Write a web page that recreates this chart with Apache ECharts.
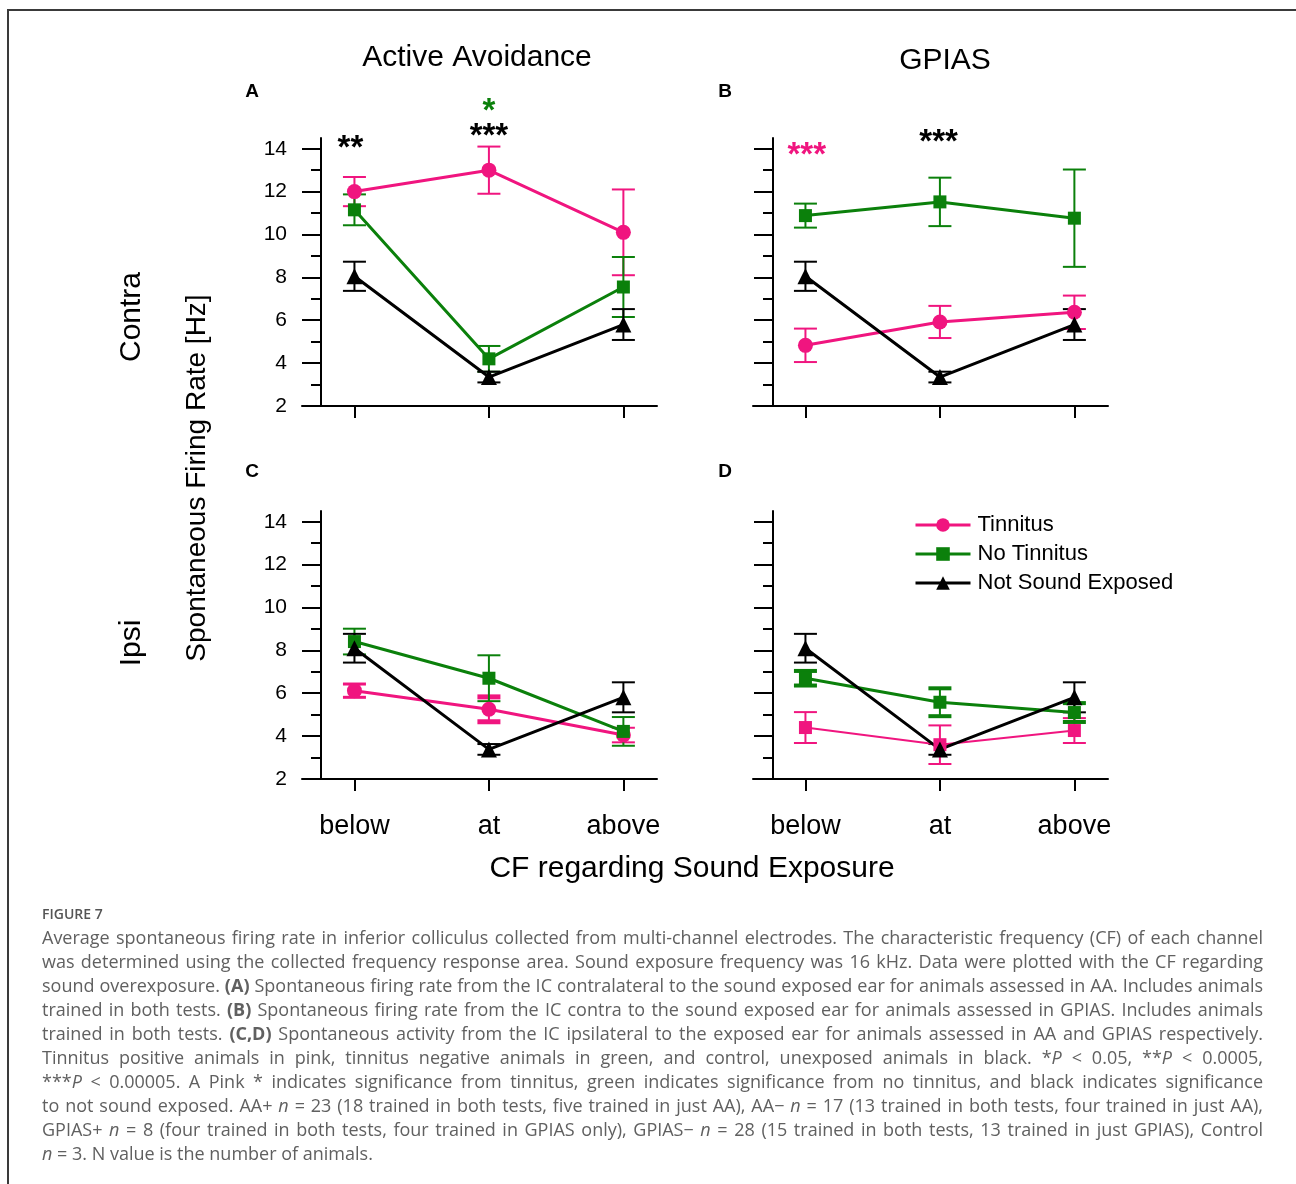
<!DOCTYPE html>
<html>
<head>
<meta charset="utf-8">
<script src="https://cdn.jsdelivr.net/npm/echarts@6/dist/echarts.min.js"></script>
<style>html,body{margin:0;padding:0;background:#fff}#chart{width:1296px;height:1184px}</style>
</head>
<body>
<div id="chart"></div>
<script>
// ---------------- DATA ----------------
const categories = ['below', 'at', 'above'];
const yTicksMajor = [2, 4, 6, 8, 10, 12, 14];
const yTicksMinor = [3, 5, 7, 9, 11, 13];
const seriesNames = ['Tinnitus', 'No Tinnitus', 'Not Sound Exposed'];
const columnTitles = ['Active Avoidance', 'GPIAS'];
const rowTitles = ['Contra', 'Ipsi'];
const panelLetters = ['A', 'B', 'C', 'D'];
const yAxisTitle = 'Spontaneous Firing Rate [Hz]';
const xAxisTitle = 'CF regarding Sound Exposure';

// Panel A: Active Avoidance, contra
const aTinMean = [12.0, 13.0, 10.1];
const aTinErr = [0.68, 1.1, 2.0];
const aNoTinMean = [11.15, 4.2, 7.55];
const aNoTinErr = [0.72, 0.6, 1.4];
const aCtrlMean = [8.05, 3.35, 5.8];
const aCtrlErr = [0.68, 0.25, 0.72];
// Panel B: GPIAS, contra
const bTinMean = [4.83, 5.92, 6.37];
const bTinErr = [0.78, 0.75, 0.78];
const bNoTinMean = [10.88, 11.52, 10.76];
const bNoTinErr = [0.56, 1.13, 2.27];
const bCtrlMean = [8.05, 3.35, 5.8];
const bCtrlErr = [0.68, 0.25, 0.72];
// Panel C: Active Avoidance, ipsi
const cTinMean = [6.12, 5.25, 4.05];
const cTinErr = [0.31, 0.58, 0.34];
const cNoTinMean = [8.41, 6.7, 4.22];
const cNoTinErr = [0.6, 1.07, 0.67];
const cCtrlMean = [8.1, 3.38, 5.81];
const cCtrlErr = [0.67, 0.25, 0.7];
// Panel D: GPIAS, ipsi
const dTinMean = [4.4, 3.6, 4.26];
const dTinErr = [0.72, 0.9, 0.58];
const dNoTinMean = [6.7, 5.58, 5.1];
const dNoTinErr = [0.34, 0.65, 0.44];
const dCtrlMean = [8.1, 3.38, 5.81];
const dCtrlErr = [0.67, 0.25, 0.7];

// Significance markers: text, category index, level (Hz), group (0 tinnitus,1 no tinnitus,2 control)
const starsAText = ['**', '***', '*'];
const starsACat = [-0.03, 1, 1];
const starsALevel = [14.0, 14.56, 15.73];
const starsAGroup = [2, 2, 1];
const starsBText = ['***', '***'];
const starsBCat = [0.01, 0.99];
const starsBLevel = [13.67, 14.28];
const starsBGroup = [0, 2];

const captionTitle = 'FIGURE 7';
const captionLines = [
'Average spontaneous firing rate in inferior colliculus collected from multi-channel electrodes. The characteristic frequency (CF) of each channel',
'was determined using the collected frequency response area. Sound exposure frequency was 16 kHz. Data were plotted with the CF regarding',
'sound overexposure. {b|(A)} Spontaneous firing rate from the IC contralateral to the sound exposed ear for animals assessed in AA. Includes animals',
'trained in both tests. {b|(B)} Spontaneous firing rate from the IC contra to the sound exposed ear for animals assessed in GPIAS. Includes animals',
'trained in both tests. {b|(C,D)} Spontaneous activity from the IC ipsilateral to the exposed ear for animals assessed in AA and GPIAS respectively.',
'Tinnitus positive animals in pink, tinnitus negative animals in green, and control, unexposed animals in black. *{i|P} < 0.05, **{i|P} < 0.0005,',
'***{i|P} < 0.00005. A Pink * indicates significance from tinnitus, green indicates significance from no tinnitus, and black indicates significance',
'to not sound exposed. AA+ {i|n} = 23 (18 trained in both tests, five trained in just AA), AA\u2212 {i|n} = 17 (13 trained in both tests, four trained in just AA),',
'GPIAS+ {i|n} = 8 (four trained in both tests, four trained in GPIAS only), GPIAS\u2212 {i|n} = 28 (15 trained in both tests, 13 trained in just GPIAS), Control',
'{i|n} = 3. N value is the number of animals.'
];

// ---------------- STYLE / LAYOUT ----------------
const PINK = '#F0157F', GREEN = '#0B800B', BLACK = '#000000';
const groupColors = [PINK, GREEN, BLACK];
const FONT = 'Liberation Sans';
const CAP_FONT = 'Open Sans';
const CAP_SIZE = 18;

const panelData = [
  [[aTinMean, aTinErr], [aNoTinMean, aNoTinErr], [aCtrlMean, aCtrlErr]],
  [[bTinMean, bTinErr], [bNoTinMean, bNoTinErr], [bCtrlMean, bCtrlErr]],
  [[cTinMean, cTinErr], [cNoTinMean, cNoTinErr], [cCtrlMean, cCtrlErr]],
  [[dTinMean, dTinErr], [dNoTinMean, dNoTinErr], [dCtrlMean, dCtrlErr]]
];
const baseStyles = [
  {symbol: 'circle', symbolSize: 15, lineWidth: 3, cap: [2, 2, 2]},
  {symbol: 'rect', symbolSize: 13, lineWidth: 3, cap: [2, 2, 2]},
  {symbol: 'triangle', symbolSize: 16, lineWidth: 3, cap: [2, 2, 2]}
];
const panelStyles = [
  [baseStyles[0], baseStyles[1], baseStyles[2]],
  [baseStyles[0], baseStyles[1], baseStyles[2]],
  [Object.assign({}, baseStyles[0], {cap: [3, 5, 2]}), baseStyles[1], baseStyles[2]],
  [{symbol: 'rect', symbolSize: 13, lineWidth: 2, cap: [2, 2, 2]}, Object.assign({}, baseStyles[1], {cap: [4, 4, 4]}), baseStyles[2]]
];
const panelLayout = [
  {left: 302, top: 138, yOff: -19, showY: true, showX: false},
  {left: 753, top: 138, yOff: -20, showY: false, showX: false},
  {left: 302, top: 511, yOff: -19, showY: true, showX: true},
  {left: 753, top: 511, yOff: -20, showY: false, showX: true}
];
const panelStars = [
  {text: starsAText, cat: starsACat, level: starsALevel, group: starsAGroup},
  {text: starsBText, cat: starsBCat, level: starsBLevel, group: starsBGroup},
  null, null
];

const axisLineStyle = {color: '#000', width: 2};

const grids = [], xAxes = [], yAxes = [], series = [];
panelLayout.forEach((p, i) => {
  grids.push({left: p.left, top: p.top, width: 355, height: 268, outerBoundsMode: 'none', containLabel: false});
  xAxes.push({
    gridIndex: i, type: 'value', min: -0.39, max: 2.25,
    axisLine: {show: true, onZero: false, lineStyle: axisLineStyle},
    axisTick: {show: true, customValues: [0, 1, 2], length: 12, lineStyle: axisLineStyle},
    axisLabel: p.showX ? {show: true, customValues: [0, 1, 2], formatter: v => categories[Math.round(v)],
      fontSize: 27, fontFamily: FONT, color: '#000', margin: 34} : {show: false},
    splitLine: {show: false}
  });
  yAxes.push({
    gridIndex: i, type: 'value', min: 2, max: 14.5, position: 'left', offset: p.yOff,
    axisLine: {show: true, onZero: false, lineStyle: axisLineStyle},
    axisTick: {show: true, customValues: yTicksMajor, length: 19, lineStyle: axisLineStyle},
    axisLabel: p.showY ? {show: true, customValues: yTicksMajor, fontSize: 21, fontFamily: FONT, color: '#000', margin: 34} : {show: false},
    splitLine: {show: false}
  });
  yAxes.push({
    gridIndex: i, type: 'value', min: 2, max: 14.5, position: 'left', offset: p.yOff,
    axisLine: {show: false, onZero: false},
    axisTick: {show: true, customValues: yTicksMinor, length: 10, lineStyle: axisLineStyle},
    axisLabel: {show: false},
    splitLine: {show: false}
  });

  panelData[i].forEach((grp, g) => {
    const mean = grp[0], err = grp[1];
    const st = panelStyles[i][g];
    const color = groupColors[g];
    series.push({
      type: 'custom', name: seriesNames[g] + ' error ' + panelLetters[i],
      xAxisIndex: i, yAxisIndex: 2 * i, silent: true,
      encode: {x: 0, y: 1},
      data: mean.map((m, k) => [k, m, m - err[k], m + err[k]]),
      renderItem: (params, api) => {
        const x = api.value(0);
        const pT = api.coord([x, api.value(3)]);
        const pB = api.coord([x, api.value(2)]);
        const half = 11.5;
        const cw = st.cap[params.dataIndex];
        return {type: 'group', children: [
          {type: 'line', shape: {x1: pT[0], y1: pT[1], x2: pB[0], y2: pB[1]}, style: {stroke: color, lineWidth: 2}},
          {type: 'line', shape: {x1: pT[0] - half, y1: pT[1], x2: pT[0] + half, y2: pT[1]}, style: {stroke: color, lineWidth: cw}},
          {type: 'line', shape: {x1: pB[0] - half, y1: pB[1], x2: pB[0] + half, y2: pB[1]}, style: {stroke: color, lineWidth: cw}}
        ]};
      }
    });
    series.push({
      type: 'line', name: seriesNames[g], xAxisIndex: i, yAxisIndex: 2 * i,
      data: mean.map((m, k) => [k, m]),
      symbol: st.symbol, symbolSize: st.symbolSize,
      lineStyle: {color: color, width: st.lineWidth},
      itemStyle: {color: color, borderWidth: 0},
      emphasis: {disabled: true}, silent: true
    });
  });

  const stars = panelStars[i];
  if (stars) {
    series.push({
      type: 'custom', name: 'significance ' + panelLetters[i],
      xAxisIndex: i, yAxisIndex: 2 * i, silent: true, z: 5,
      encode: {x: 0, y: 1},
      data: stars.text.map((t, k) => [stars.cat[k], stars.level[k]]),
      renderItem: (params, api) => {
        const pt = api.coord([api.value(0), api.value(1)]);
        const k = params.dataIndex;
        return {type: 'text', x: pt[0], y: pt[1], style: {
          text: stars.text[k], fill: groupColors[stars.group[k]],
          fontSize: 33, fontWeight: 'bold', fontFamily: FONT, align: 'center', verticalAlign: 'middle'}};
      }
    });
  }
});

// ---------------- GRAPHIC TEXT ----------------
const graphics = [];
graphics.push({type: 'rect', shape: {x: 8, y: 10, width: 1400, height: 1400}, style: {fill: 'none', stroke: '#3a3a3a', lineWidth: 2}, silent: true});
function txt(text, x, y, size, opts) {
  return Object.assign({type: 'text', x: x, y: y, silent: true, style: Object.assign({
    text: text, fontSize: size, fontFamily: FONT, fill: '#000', align: 'center', verticalAlign: 'middle'
  }, (opts && opts.style) || {})}, (opts && opts.el) || {});
}
graphics.push(txt(columnTitles[0], 477, 58, 30));
graphics.push(txt(columnTitles[1], 945, 61, 30));
graphics.push(txt(panelLetters[0], 252, 92, 19, {style: {fontWeight: 'bold'}}));
graphics.push(txt(panelLetters[1], 725, 92, 19, {style: {fontWeight: 'bold'}}));
graphics.push(txt(panelLetters[2], 252, 472, 19, {style: {fontWeight: 'bold'}}));
graphics.push(txt(panelLetters[3], 725, 472, 19, {style: {fontWeight: 'bold'}}));
graphics.push(txt(rowTitles[0], 132, 317, 30, {el: {rotation: Math.PI / 2}}));
graphics.push(txt(rowTitles[1], 132, 643, 30, {el: {rotation: Math.PI / 2}}));
graphics.push(txt(yAxisTitle, 197, 478, 28, {el: {rotation: Math.PI / 2}}));
graphics.push(txt(xAxisTitle, 692, 869, 30));

// caption (justified, word by word)
const CAP_COLOR = '#606060';
const ctx = document.createElement('canvas').getContext('2d');
function segs(word) {
  const out = []; const re = /\{(b|i)\|([^}]*)\}/g; let last = 0, m;
  while ((m = re.exec(word))) {
    if (m.index > last) out.push({t: word.slice(last, m.index), s: ''});
    out.push({t: m[2], s: m[1]}); last = re.lastIndex;
  }
  if (last < word.length) out.push({t: word.slice(last), s: ''});
  return out;
}
function fontFor(s) { return (s === 'i' ? 'italic ' : '') + (s === 'b' ? 'bold ' : '') + CAP_SIZE + 'px "' + CAP_FONT + '"'; }
function measure(word) { return segs(word).reduce((w, sg) => { ctx.font = fontFor(sg.s); return w + ctx.measureText(sg.t).width; }, 0); }
const capRich = {
  b: {fontFamily: CAP_FONT, fontSize: CAP_SIZE, fontWeight: 'bold', fill: CAP_COLOR},
  i: {fontFamily: CAP_FONT, fontSize: CAP_SIZE, fontStyle: 'italic', fill: CAP_COLOR}
};
graphics.push({type: 'text', x: 42, y: 915, silent: true, style: {text: captionTitle, fontSize: 14, fontWeight: 600, fontFamily: CAP_FONT, fill: '#555', align: 'left', verticalAlign: 'middle'}});
const CAP_LEFT = 42, CAP_RIGHT = 1263;
captionLines.forEach((line, li) => {
  const words = line.split(' ');
  const widths = words.map(measure);
  const total = widths.reduce((a, b) => a + b, 0);
  ctx.font = fontFor('');
  const natGap = ctx.measureText(' ').width;
  const justify = li < captionLines.length - 1;
  let gap = justify ? (CAP_RIGHT - CAP_LEFT - total) / (words.length - 1) : natGap;
  if (gap < natGap * 0.6) gap = natGap * 0.6;
  let x = CAP_LEFT;
  const y = 939 + 24 * li;
  words.forEach((w, k) => {
    graphics.push({type: 'text', x: x, y: y, silent: true, style: {
      text: w, fontFamily: CAP_FONT, fontSize: CAP_SIZE, fill: CAP_COLOR, align: 'left', verticalAlign: 'middle', rich: capRich}});
    x += widths[k] + gap;
  });
});

const chart = echarts.init(document.getElementById('chart'), null, {renderer: 'canvas', width: 1296, height: 1184});
chart.setOption({
  animation: false,
  backgroundColor: '#ffffff',
  grid: grids, xAxis: xAxes, yAxis: yAxes, series: series,
  legend: {
    data: seriesNames, orient: 'vertical', left: 914, top: 514, padding: 0,
    itemWidth: 55, itemHeight: 17, itemGap: 7, selectedMode: false,
    lineStyle: {width: 3},
    textStyle: {fontSize: 22, fontFamily: FONT, color: '#000', lineHeight: 22, padding: [0, 0, 0, 2]}
  },
  graphic: {elements: graphics}
});
</script>
</body>
</html>
